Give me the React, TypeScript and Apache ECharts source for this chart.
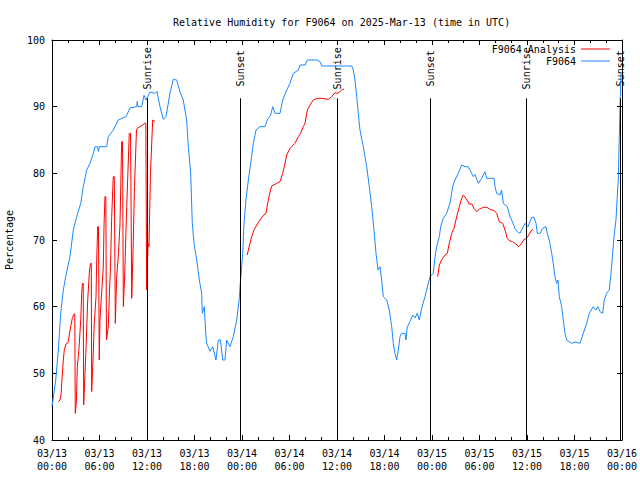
import React, { useEffect, useRef } from "react";
import * as echarts from "echarts";

const TITLE = "Relative Humidity for F9064 on 2025-Mar-13 (time in UTC)";
const FONT = "DejaVu Sans Mono";

// x tick labels every 6 hours from 03/13 00:00 UTC
const xTickLabels = [
  "03/13\n00:00", "03/13\n06:00", "03/13\n12:00", "03/13\n18:00",
  "03/14\n00:00", "03/14\n06:00", "03/14\n12:00", "03/14\n18:00",
  "03/15\n00:00", "03/15\n06:00", "03/15\n12:00", "03/15\n18:00",
  "03/16\n00:00",
];

// F9064 observations: hours since 03/13 00:00 UTC, relative humidity %
const obsHours = [
  0, 0.47, 0.8, 1.1, 1.43, 1.73, 2.27, 2.69, 3.12, 3.63, 3.95, 4.38, 4.8, 5.22, 5.43, 5.75, 5.87, 5.97,
  6.91, 7.11, 7.74, 8.37, 9.35, 9.85, 10.7, 10.77, 10.86, 11.33, 11.62, 11.87, 12.38, 13.01, 13.26, 13.64,
  14.06, 14.4, 14.9, 15.32, 15.75, 16.17, 16.58, 17.01, 17.22, 17.52, 17.72, 17.94, 18.28, 18.61, 18.91,
  18.98, 19.24, 19.45, 19.54, 19.96, 20.3, 20.71, 21.01, 21.28, 21.56, 21.85, 22.07, 22.48, 22.9, 23.33,
  23.66, 23.75, 23.96, 24.09, 24.25, 24.5, 24.8, 25.1, 25.43, 25.77, 26.27, 26.9, 27.19, 27.62, 27.88,
  28.17, 28.8, 29.14, 29.65, 30.06, 30.48, 31.11, 31.33, 31.96, 32.25, 33.47, 33.85, 34.07, 37.86, 38.06,
  38.27, 38.49, 38.69, 38.9, 39.32, 39.75, 40.08, 40.38, 40.67, 40.93, 41.18, 41.43, 41.64, 41.85, 42.28,
  42.6, 42.91, 43.11, 43.32, 43.54, 43.74, 43.96, 44.17, 44.59, 44.71, 44.88, 45.22, 45.56, 45.85, 46.14,
  46.39, 46.7, 47.11, 47.53, 47.75, 48.16, 48.38, 48.59, 48.92, 49.1, 49.42, 49.85, 50.27, 50.61, 50.9,
  51.32, 51.75, 52.17, 52.55, 52.8, 53.22, 53.43, 53.85, 54.27, 54.69, 54.91, 55.83, 55.96, 56.17, 56.59,
  56.8, 57.0, 57.51, 57.85, 58.06, 58.48, 58.77, 59.11, 59.53, 59.75, 60.13, 60.59, 60.88, 61.14, 61.3,
  61.64, 61.98, 62.4, 62.56, 62.81, 63.12, 63.32, 63.53, 63.75, 63.91, 64.08, 64.38, 64.58, 64.8, 65.01,
  65.64, 66.06, 66.69, 67.11, 67.54, 67.87, 68.37, 68.71, 68.97, 69.22, 69.56, 69.76, 70.06, 70.39, 70.57,
  70.82, 70.99, 71.24, 71.4, 71.53, 71.66, 71.75, 71.83, 71.87,
];
const obsValues = [
  45, 49, 53.5, 59, 62.5, 64.5, 67.5, 71.5, 73.5, 75.5, 78, 80.5, 81.5, 83, 84, 84, 83.3, 84,
  84, 85.5, 86.5, 88, 88.5, 89.8, 90, 90.8, 90, 90, 91.7, 91, 92.2, 92, 92.3, 90,
  88.1, 88.5, 92, 94.1, 94, 92.2, 91, 88, 84, 80, 72.5, 69.5, 67, 64, 62,
  59, 60, 55.5, 54.5, 53.3, 54, 52, 55, 55, 52, 52, 55, 54, 55.5, 58,
  61.2, 63, 66, 68, 72.5, 76, 79, 81.5, 84.5, 86.5, 87, 87, 88, 88.75, 90,
  89, 89, 91, 92.5, 93.5, 95, 95.5, 96.25, 96.25, 97, 97, 96.75, 96.1, 96.1, 95.5,
  94, 91.5, 89, 86.5, 84, 81, 78, 75, 71.5, 68, 65.5, 66, 64, 61.5, 61,
  59.5, 57, 54.5, 53, 52, 53.5, 55.5, 56, 56, 55, 57, 57.75, 58.75, 58.3, 59,
  58, 59.75, 61.5, 63.5, 64.5, 65, 67.5, 69, 70.5, 72, 73.25, 74, 75.5, 78, 79,
  80, 81.25, 81, 81, 80.5, 79.5, 79.8, 78.5, 79.25, 80.25, 79.25, 79.25, 78, 77, 76.75,
  77.5, 75.5, 75, 73.5, 73, 71.75, 71.25, 71, 72, 72.5, 72, 73.4, 73.4, 72.5, 71,
  71, 71.75, 72, 71, 70, 68, 66.5, 64.5, 63.5, 64, 61.5, 60, 58, 56, 55,
  54.5, 54.7, 54.5, 56, 57.5, 59, 60, 59.5, 60, 59.25, 59, 61, 62, 62.5, 64.5,
  68, 70.5, 73, 76.5, 79, 85.5, 90, 93.5, 95,
];

// F9064 Analysis, three separate runs
const analysis1Hours = [
  0.8, 1.01, 1.14, 1.23, 1.43, 1.55, 1.77, 2.02, 2.19, 2.36, 2.56, 2.78, 2.88, 2.94, 3.07, 3.2, 3.41, 3.63,
  3.75, 3.83, 3.94, 4.0, 4.17, 4.29, 4.51, 4.71, 4.86, 4.96, 5.01, 5.18, 5.34, 5.56, 5.65, 5.77, 5.87, 5.97,
  6.06, 6.28, 6.48, 6.57, 6.69, 6.8, 6.88, 7.11, 7.24, 7.39, 7.54, 7.74, 7.87, 8.0, 8.17, 8.4, 8.59, 8.8,
  8.91, 9.01, 9.16, 9.44, 9.76, 9.92, 10.07, 10.23, 10.42, 10.67, 10.77, 11.12, 11.75, 11.85, 11.96, 12.13,
  12.25, 12.44, 12.72, 13.01,
];
const analysis1Values = [
  45.75, 46, 46.75, 48.5, 52, 53.5, 54.4, 54.6, 55.75, 57, 58.25, 58.9, 58.9, 44, 45.5, 51, 53.75, 58,
  62, 63.5, 63.5, 45.25, 50, 53.5, 61, 65, 66.5, 66.5, 47.25, 52, 57.5, 61.5, 67, 72, 72, 52,
  58, 62.25, 66, 72, 76.5, 76.5, 55, 57, 61.5, 66, 73.5, 79.5, 79.5, 57.5, 64.5, 68, 72.5, 84.75,
  84.75, 60, 64, 75, 86, 86, 61.25, 68, 78, 86.5, 86.75, 87, 87.5, 87.5, 62.5, 69.5,
  69, 80, 88, 87.75,
];
const analysis2Hours = [
  24.67, 24.8, 25.01, 25.22, 25.51, 25.86, 26.27, 26.61, 27.03, 27.2, 27.45, 27.75, 28.38, 28.8, 29.14,
  29.43, 29.65, 30.06, 30.69, 31.11, 31.41, 31.74, 31.96, 32.25, 32.59, 33.0, 33.51, 34.1, 34.9, 35.33,
  35.75, 36.12, 36.59, 36.88,
];
const analysis2Values = [
  67.75, 68.5, 69.5, 70.5, 71.5, 72.25, 73, 73.6, 74, 75.25, 76.75, 78.1, 78.5, 78.75, 80,
  81.5, 82.75, 83.75, 84.5, 85.5, 86, 87, 87.5, 89.5, 90.25, 91, 91.25, 91.25, 91.1, 91.5,
  92.1, 92, 92.5, 92.65,
];
const analysis3Hours = [
  48.72, 48.92, 49.22, 49.64, 49.93, 50.18, 50.49, 50.78, 51.12, 51.45, 51.75, 51.95, 52.29, 52.71, 53.05,
  53.3, 53.64, 53.97, 54.48, 54.94, 55.32, 55.83, 56.17, 56.5, 56.93, 57.22, 57.51, 57.76, 58.19, 58.61,
  58.95, 59.33, 59.62, 59.96, 60.29, 60.59, 60.76,
];
const analysis3Values = [
  64.5, 66.25, 67, 67.75, 68, 69.5, 71, 71.75, 73.5, 75, 76.25, 76.75, 76.25, 75.4, 75.4,
  74.75, 74.25, 74.6, 74.9, 74.9, 74.6, 74.4, 74, 72.75, 72.5, 71.5, 70.25, 69.9, 69.75, 69.4,
  69, 69.5, 70.1, 70.25, 70.9, 71.5, 71.6,
];

// Sun events (hours since 03/13 00:00 UTC)
const sunEventNames = ["Sunrise", "Sunset", "Sunrise", "Sunset", "Sunrise", "Sunset"];
const sunEventHours = [12.03, 23.78, 36.02, 47.8, 59.95, 71.78];
const SUN_LINE_TOP = 91.25;
const SUN_LABEL_Y = 95.6;

const zip = (xs: number[], ys: number[]) => xs.map((x, i) => [x, ys[i]]);

const BLUE = "#1a88ff";
const RED = "#ff0000";

export default function App() {
  const ref = useRef<HTMLDivElement>(null);
  useEffect(() => {
    if (!ref.current) return;
    const chart = echarts.init(ref.current, undefined, { renderer: "svg" });
    const txt = { fontFamily: FONT, fontSize: 10, color: "#000" };
    const axisCommon = {
      type: "value" as const,
      axisLine: { show: true, onZero: false, lineStyle: { color: "#000", width: 1 } },
      splitLine: { show: false },
    };
    const redLine = (data: number[][]) => ({
      type: "line",
      name: "F9064 Analysis",
      data,
      symbol: "none",
      lineStyle: { color: RED, width: 1 },
      itemStyle: { color: RED },
      z: 3,
    });
    const legendCommon = {
      right: 30,
      align: "right",
      icon: "rect",
      itemWidth: 29,
      itemHeight: 1,
      textStyle: txt,
      padding: 0,
      selectedMode: false,
    };
    chart.setOption({
      animation: false,
      title: {
        text: TITLE,
        left: 168,
        top: 12,
        textStyle: { ...txt, fontWeight: "normal" },
      },
      legend: [
        { ...legendCommon, data: ["F9064 Analysis"], top: 44 },
        { ...legendCommon, data: ["F9064"], top: 56 },
      ],
      grid: {
        left: 52,
        right: 18,
        top: 40,
        bottom: 40,
        containLabel: false,
        outerBoundsMode: "none",
      },
      xAxis: [
        {
          ...axisCommon,
          position: "bottom",
          min: 0,
          max: 72,
          interval: 6,
          axisTick: { show: true, inside: true, length: 5, lineStyle: { color: "#000" } },
          minorTick: { show: true, splitNumber: 3, length: 3, lineStyle: { color: "#000" } },
          axisLabel: {
            ...txt,
            margin: 7,
            lineHeight: 13,
            formatter: (v: number) => xTickLabels[Math.round(v / 6)] ?? "",
          },
        },
        {
          ...axisCommon,
          position: "top",
          min: 0,
          max: 72,
          interval: 6,
          axisTick: { show: true, inside: true, length: 5, lineStyle: { color: "#000" } },
          minorTick: { show: true, splitNumber: 3, length: 3, lineStyle: { color: "#000" } },
          axisLabel: { show: false },
        },
      ],
      yAxis: [
        {
          ...axisCommon,
          position: "left",
          min: 40,
          max: 100,
          interval: 10,
          name: "Percentage",
          nameLocation: "middle",
          nameRotate: 90,
          nameGap: 38,
          nameTextStyle: txt,
          axisTick: { show: true, inside: true, length: 5, lineStyle: { color: "#000" } },
          axisLabel: { ...txt, margin: 7 },
        },
        {
          ...axisCommon,
          position: "right",
          min: 40,
          max: 100,
          interval: 10,
          axisTick: { show: true, inside: true, length: 5, lineStyle: { color: "#000" } },
          axisLabel: { show: false },
        },
      ],
      series: [
        {
          type: "line",
          name: "sunlines",
          data: [],
          symbol: "none",
          z: 1,
          markLine: {
            silent: true,
            symbol: "none",
            label: { show: false },
            lineStyle: { color: "#000", width: 1, type: "solid" },
            data: sunEventHours.map((h) => [
              { coord: [h, 40] },
              { coord: [h, SUN_LINE_TOP] },
            ]),
          },
        },
        {
          type: "scatter",
          name: "sunlabels",
          symbolSize: 0,
          silent: true,
          z: 1,
          itemStyle: { color: "#000", opacity: 1 },
          data: sunEventHours.map((h, i) => ({ value: [h, SUN_LABEL_Y], name: sunEventNames[i] })),
          label: {
            show: true,
            position: "inside",
            rotate: 90,
            offset: [1, 0],
            formatter: (p: any) => p.name,
            ...txt,
            opacity: 1,
            textBorderWidth: 0,
            textBorderColor: "transparent",
          },
        },
        redLine(zip(analysis1Hours, analysis1Values)),
        redLine(zip(analysis2Hours, analysis2Values)),
        redLine(zip(analysis3Hours, analysis3Values)),
        {
          type: "line",
          name: "F9064",
          data: zip(obsHours, obsValues),
          symbol: "none",
          lineStyle: { color: BLUE, width: 1 },
          itemStyle: { color: BLUE },
          z: 4,
        },
      ],
    });
    return () => chart.dispose();
  }, []);
  return (
    <div
      ref={ref}
      style={{ position: "fixed", left: 0, top: 0, width: 640, height: 480, background: "#fff" }}
    />
  );
}
